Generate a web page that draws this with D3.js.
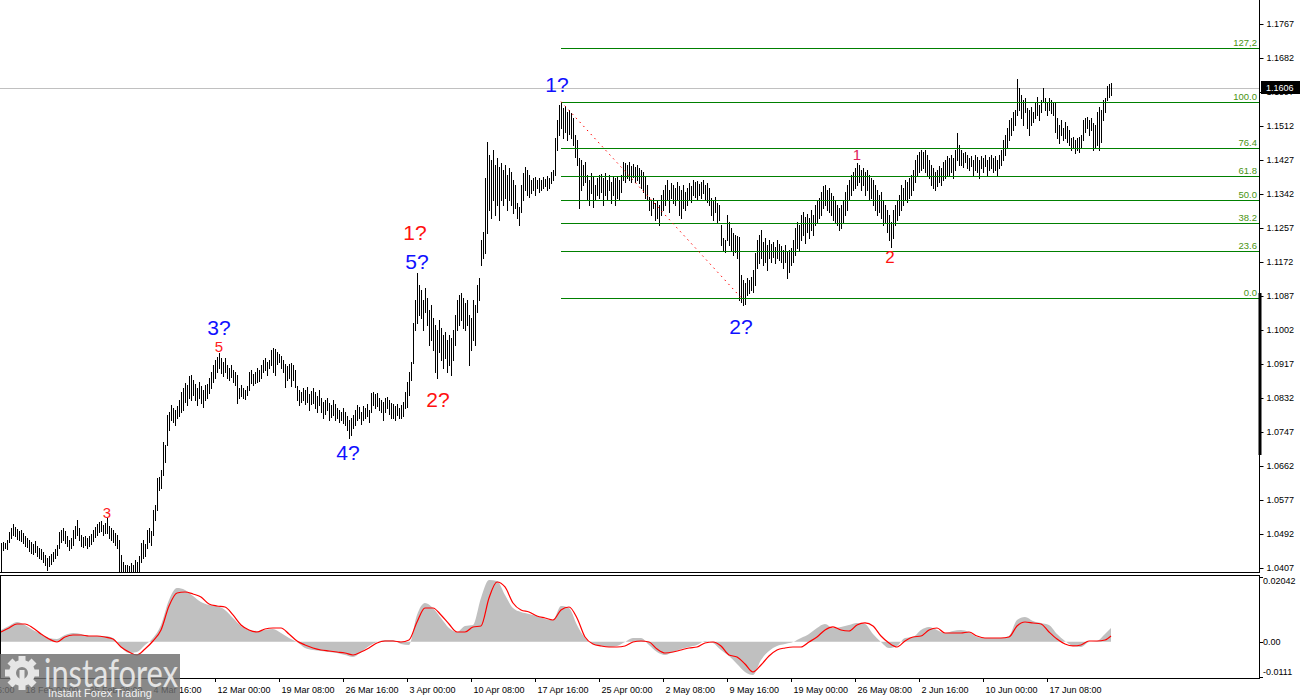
<!DOCTYPE html>
<html><head><meta charset="utf-8">
<script src="https://cdn.jsdelivr.net/npm/d3@7"></script>
<style>body{margin:0;background:#fff}svg{display:block}</style>
</head><body><svg id="c" width="1300" height="700"></svg>
<script>
// ---------- DATA (EURUSD H4) ----------
const highs = [
1.0469,1.0472,1.0469,1.0477,1.0497,1.0507,1.0517,1.0509,1.0504,1.0499,
1.0502,1.0494,1.0487,1.0482,1.0477,1.0472,1.0467,1.0474,1.0462,1.0457,
1.0454,1.0447,1.0439,1.0432,1.0437,1.0442,1.0447,1.0454,1.0464,1.0497,
1.0502,1.0507,1.0499,1.0487,1.0477,1.0482,1.0502,1.0512,1.0527,1.0507,
1.0489,1.0484,1.0487,1.0482,1.0487,1.0492,1.0502,1.0509,1.0517,1.0522,
1.0524,1.0514,1.0519,1.0532,1.0512,1.0507,1.0502,1.0494,1.0489,1.0477,
1.0439,1.0422,1.0414,1.0414,1.0412,1.0419,1.0414,1.0427,1.0422,1.0437,
1.0469,1.0477,1.0467,1.0502,1.0507,1.0499,1.0552,1.0564,1.0632,1.0634,
1.0652,1.0722,1.0714,1.0789,1.0797,1.0814,1.0807,1.0802,1.0812,1.0827,
1.0847,1.0857,1.0869,1.0864,1.0887,1.0889,1.0877,1.0867,1.0857,1.0872,
1.0862,1.0852,1.0864,1.0867,1.0882,1.0897,1.0914,1.0927,1.0934,1.0944,
1.0932,1.0922,1.0932,1.0914,1.0907,1.0914,1.0902,1.0897,1.0889,1.0857,
1.0864,1.0857,1.0852,1.0862,1.0897,1.0902,1.0892,1.0897,1.0907,1.0902,
1.0914,1.0927,1.0932,1.0922,1.0927,1.0952,1.0957,1.0954,1.0947,1.0942,
1.0937,1.0927,1.0917,1.0912,1.0917,1.0919,1.0914,1.0902,1.0862,1.0852,
1.0847,1.0857,1.0852,1.0859,1.0842,1.0849,1.0857,1.0847,1.0837,1.0852,
1.0832,1.0822,1.0827,1.0832,1.0819,1.0814,1.0827,1.0817,1.0807,1.0802,
1.0797,1.0807,1.0797,1.0787,1.0777,1.0782,1.0789,1.0802,1.0814,1.0809,
1.0797,1.0812,1.0807,1.0817,1.0802,1.0844,1.0847,1.0842,1.0844,1.0832,
1.0827,1.0822,1.0832,1.0834,1.0827,1.0819,1.0817,1.0812,1.0817,1.0807,
1.0814,1.0822,1.0847,1.0872,1.0897,1.0922,1.1019,1.1077,1.1144,1.1114,
1.1102,1.1077,1.1107,1.1082,1.1052,1.1064,1.1032,1.1014,1.1002,1.1027,
1.1007,1.0989,1.0997,1.0977,1.0989,1.0982,1.1002,1.1039,1.1077,1.1089,
1.1094,1.1082,1.1069,1.1077,1.1039,1.1032,1.1077,1.1064,1.1114,1.1132,
1.1227,1.1247,1.1382,1.1472,1.1439,1.1427,1.1452,1.1414,1.1432,1.1409,
1.1419,1.1402,1.1414,1.1389,1.1407,1.1397,1.1377,1.1364,1.1319,1.1309,
1.1364,1.1394,1.1409,1.1402,1.1389,1.1377,1.1382,1.1384,1.1377,1.1382,
1.1377,1.1384,1.1379,1.1387,1.1382,1.1397,1.1402,1.1482,1.1527,1.1564,
1.1572,1.1557,1.1562,1.1547,1.1552,1.1544,1.1532,1.1489,1.1477,1.1432,
1.1427,1.1414,1.1422,1.1389,1.1377,1.1394,1.1387,1.1364,1.1382,1.1389,
1.1392,1.1382,1.1394,1.1377,1.1389,1.1372,1.1387,1.1382,1.1384,1.1377,
1.1389,1.1422,1.1419,1.1414,1.1422,1.1412,1.1417,1.1409,1.1414,1.1407,
1.1402,1.1397,1.1384,1.1364,1.1334,1.1327,1.1332,1.1319,1.1327,1.1314,
1.1339,1.1352,1.1364,1.1377,1.1352,1.1369,1.1364,1.1357,1.1372,1.1362,
1.1352,1.1364,1.1347,1.1357,1.1369,1.1362,1.1377,1.1372,1.1374,1.1367,
1.1372,1.1377,1.1364,1.1369,1.1357,1.1332,1.1327,1.1334,1.1319,1.1314,
1.1264,1.1232,1.1227,1.1289,1.1272,1.1257,1.1244,1.1239,1.1237,1.1234,
1.1139,1.1127,1.1119,1.1132,1.1127,1.1134,1.1152,1.1194,1.1227,1.1239,
1.1252,1.1222,1.1232,1.1214,1.1227,1.1217,1.1222,1.1209,1.1227,1.1217,
1.1212,1.1202,1.1214,1.1197,1.1202,1.1207,1.1227,1.1257,1.1272,1.1264,
1.1289,1.1297,1.1284,1.1292,1.1282,1.1302,1.1289,1.1314,1.1327,1.1332,
1.1347,1.1362,1.1364,1.1352,1.1357,1.1344,1.1337,1.1327,1.1314,1.1307,
1.1314,1.1327,1.1347,1.1364,1.1377,1.1389,1.1397,1.1407,1.1419,1.1414,
1.1402,1.1407,1.1397,1.1402,1.1389,1.1382,1.1377,1.1364,1.1352,1.1339,
1.1347,1.1327,1.1314,1.1302,1.1289,1.1272,1.1302,1.1314,1.1327,1.1339,
1.1364,1.1357,1.1377,1.1372,1.1382,1.1389,1.1402,1.1427,1.1439,1.1447,
1.1452,1.1447,1.1452,1.1439,1.1427,1.1414,1.1407,1.1397,1.1402,1.1412,
1.1407,1.1422,1.1427,1.1437,1.1432,1.1439,1.1432,1.1452,1.1494,1.1464,
1.1452,1.1444,1.1447,1.1439,1.1432,1.1437,1.1427,1.1439,1.1434,1.1427,
1.1437,1.1432,1.1439,1.1427,1.1434,1.1439,1.1432,1.1437,1.1427,1.1439,
1.1452,1.1477,1.1489,1.1507,1.1527,1.1532,1.1547,1.1552,1.1629,1.1607,
1.1589,1.1577,1.1582,1.1557,1.1552,1.1559,1.1547,1.1569,1.1584,1.1564,
1.1577,1.1607,1.1582,1.1572,1.1582,1.1577,1.1569,1.1569,1.1532,1.1514,
1.1527,1.1507,1.1522,1.1512,1.1502,1.1482,1.1484,1.1477,1.1482,1.1484,
1.1489,1.1527,1.1532,1.1534,1.1527,1.1532,1.1519,1.1514,1.1547,1.1559,
1.1552,1.1577,1.1582,1.1612,1.1617,1.1619];
const lows = [
1.0397,1.0452,1.0457,1.0454,1.0472,1.0482,1.0489,1.0487,1.0479,1.0477,
1.0474,1.0469,1.0462,1.0459,1.0449,1.0444,1.0442,1.0447,1.0437,1.0432,
1.0429,1.0422,1.0414,1.0402,1.0412,1.0417,1.0424,1.0432,1.0439,1.0457,
1.0472,1.0477,1.0469,1.0462,1.0452,1.0457,1.0464,1.0482,1.0489,1.0477,
1.0462,1.0459,1.0464,1.0457,1.0462,1.0467,1.0474,1.0484,1.0489,1.0497,
1.0499,1.0489,1.0494,1.0494,1.0482,1.0477,1.0472,1.0464,1.0457,1.0387,
1.0364,1.0357,1.0362,1.0377,1.0372,1.0382,1.0377,1.0387,1.0392,1.0387,
1.0422,1.0432,1.0437,1.0457,1.0472,1.0464,1.0489,1.0527,1.0552,1.0602,
1.0607,1.0639,1.0672,1.0714,1.0752,1.0777,1.0772,1.0764,1.0782,1.0787,
1.0797,1.0802,1.0822,1.0814,1.0832,1.0827,1.0839,1.0827,1.0814,1.0832,
1.0819,1.0809,1.0827,1.0832,1.0844,1.0857,1.0872,1.0882,1.0897,1.0907,
1.0894,1.0887,1.0897,1.0882,1.0877,1.0884,1.0872,1.0864,1.0819,1.0832,
1.0837,1.0832,1.0829,1.0839,1.0852,1.0869,1.0864,1.0869,1.0872,1.0874,
1.0882,1.0897,1.0902,1.0889,1.0907,1.0914,1.0897,1.0889,1.0917,1.0922,
1.0907,1.0897,1.0859,1.0877,1.0882,1.0862,1.0877,1.0859,1.0827,1.0814,
1.0822,1.0827,1.0817,1.0822,1.0802,1.0817,1.0819,1.0807,1.0797,1.0814,
1.0797,1.0782,1.0792,1.0802,1.0777,1.0784,1.0789,1.0777,1.0782,1.0772,
1.0777,1.0769,1.0764,1.0752,1.0732,1.0739,1.0757,1.0764,1.0777,1.0782,
1.0767,1.0777,1.0782,1.0787,1.0772,1.0797,1.0814,1.0807,1.0812,1.0802,
1.0797,1.0777,1.0797,1.0807,1.0792,1.0782,1.0782,1.0777,1.0789,1.0782,
1.0782,1.0787,1.0807,1.0809,1.0839,1.0877,1.0919,1.1002,1.1019,1.1039,
1.1032,1.1002,1.1047,1.1014,1.0964,1.0977,1.0952,1.0897,1.0882,1.0947,
1.0927,1.0907,1.0932,1.0897,1.0914,1.0889,1.0927,1.0964,1.1002,1.1014,
1.1027,1.1007,1.1002,1.1014,1.0914,1.0952,1.0977,1.0964,1.1047,1.1077,
1.1164,1.1182,1.1194,1.1244,1.1302,1.1282,1.1327,1.1289,1.1314,1.1277,
1.1327,1.1314,1.1332,1.1302,1.1327,1.1314,1.1294,1.1307,1.1282,1.1264,
1.1297,1.1327,1.1352,1.1339,1.1334,1.1344,1.1352,1.1339,1.1357,1.1347,
1.1352,1.1357,1.1362,1.1352,1.1357,1.1369,1.1377,1.1389,1.1452,1.1489,
1.1507,1.1482,1.1497,1.1477,1.1492,1.1482,1.1464,1.1434,1.1414,1.1307,
1.1352,1.1364,1.1372,1.1327,1.1314,1.1344,1.1309,1.1327,1.1339,1.1332,
1.1347,1.1314,1.1339,1.1327,1.1352,1.1319,1.1339,1.1314,1.1332,1.1327,
1.1347,1.1377,1.1372,1.1382,1.1377,1.1372,1.1384,1.1372,1.1377,1.1369,
1.1357,1.1347,1.1332,1.1327,1.1302,1.1289,1.1307,1.1277,1.1282,1.1264,
1.1289,1.1302,1.1314,1.1327,1.1297,1.1332,1.1319,1.1314,1.1327,1.1289,
1.1282,1.1307,1.1302,1.1314,1.1327,1.1322,1.1339,1.1334,1.1327,1.1339,
1.1332,1.1344,1.1327,1.1322,1.1314,1.1289,1.1277,1.1297,1.1269,1.1277,
1.1214,1.1202,1.1197,1.1227,1.1214,1.1202,1.1189,1.1197,1.1182,1.1077,
1.1072,1.1064,1.1067,1.1089,1.1094,1.1102,1.1097,1.1114,1.1157,1.1169,
1.1182,1.1164,1.1172,1.1152,1.1182,1.1172,1.1184,1.1169,1.1182,1.1177,
1.1172,1.1157,1.1172,1.1132,1.1147,1.1164,1.1172,1.1189,1.1207,1.1202,
1.1227,1.1239,1.1219,1.1247,1.1232,1.1252,1.1239,1.1264,1.1272,1.1282,
1.1289,1.1307,1.1314,1.1302,1.1297,1.1289,1.1277,1.1272,1.1264,1.1252,
1.1257,1.1272,1.1289,1.1302,1.1327,1.1339,1.1352,1.1357,1.1364,1.1372,
1.1352,1.1364,1.1339,1.1352,1.1327,1.1332,1.1314,1.1302,1.1289,1.1297,
1.1282,1.1264,1.1272,1.1247,1.1227,1.1209,1.1232,1.1264,1.1277,1.1289,
1.1302,1.1314,1.1327,1.1322,1.1332,1.1339,1.1352,1.1372,1.1389,1.1397,
1.1402,1.1407,1.1397,1.1389,1.1382,1.1364,1.1357,1.1352,1.1362,1.1372,
1.1364,1.1377,1.1382,1.1387,1.1389,1.1397,1.1382,1.1402,1.1427,1.1414,
1.1414,1.1409,1.1422,1.1407,1.1402,1.1412,1.1389,1.1402,1.1397,1.1382,
1.1407,1.1397,1.1412,1.1389,1.1402,1.1407,1.1397,1.1402,1.1387,1.1407,
1.1414,1.1427,1.1439,1.1457,1.1477,1.1489,1.1502,1.1514,1.1539,1.1552,
1.1532,1.1514,1.1547,1.1507,1.1489,1.1514,1.1522,1.1532,1.1539,1.1527,
1.1547,1.1572,1.1552,1.1539,1.1552,1.1544,1.1539,1.1497,1.1482,1.1469,
1.1489,1.1477,1.1482,1.1472,1.1464,1.1452,1.1457,1.1444,1.1452,1.1447,
1.1457,1.1477,1.1497,1.1507,1.1489,1.1502,1.1452,1.1457,1.1464,1.1452,
1.1472,1.1527,1.1547,1.1577,1.1584,1.1589];

const lastPrice = 1.1606;

// time axis: bar index of each labelled bar and its label
const xTickIdx = [-21, 11, 43, 75, 107, 139, 171, 203, 235, 267, 299, 331, 363, 395, 427, 459, 491, 523];
const xTickLabels = ["10 Feb 16:00","18 Feb 00:00","25 Feb 08:00","4 Mar 16:00","12 Mar 00:00","19 Mar 08:00",
  "26 Mar 16:00","3 Apr 00:00","10 Apr 08:00","17 Apr 16:00","25 Apr 00:00","2 May 08:00","9 May 16:00",
  "19 May 00:00","26 May 08:00","2 Jun 16:00","10 Jun 00:00","17 Jun 08:00"];

const priceTicks = [1.1767,1.1682,1.1597,1.1512,1.1427,1.1342,1.1257,1.1172,1.1087,1.1002,1.0917,1.0832,1.0747,1.0662,1.0577,1.0492,1.0407];

// Fibonacci retracement
const fibLevels = [0, 23.6, 38.2, 50, 61.8, 76.4, 100, 127.2];
const fibLabels = ["0.0","23.6","38.2","50.0","61.8","76.4","100.0","127,2"];
const fibLow = 1.1083, fibHigh = 1.1573, fibStartIdx = 280, fibEndIdx = 370;

// wave labels
const waveText  = ["1?","2?","3?","4?","5?","1?","2?","5","3","1","2"];
const waveIdx   = [278, 370, 109, 173.5, 208, 207, 218.5, 109, 53, 428, 444.5];
const wavePrice = [1.1597,1.0992,1.0989,1.0677,1.1154,1.1227,1.0809,1.0947,1.0532,1.1427,1.1169];
const waveColor = ["#1010ff","#1010ff","#1010ff","#1010ff","#1010ff","#ff1010","#ff1010","#ff2020","#ff2020","#e0205a","#ff1010"];
const waveSize  = [21,21,21,21,21,21,21,15,15,15,17];

// MACD (sampled every 4 bars, last sample = last bar)
const macdHist = [
0.00372,0.00498,0.00624,0.00530,0.00372,0.00246,0.00120,0.00088,0.00214,0.00277,
0.00246,0.00183,0.00183,0.00183,0.00120,-0.00164,-0.00353,-0.00322,-0.00101,0.00120,
0.00530,0.01318,0.01696,0.01633,0.01444,0.01255,0.01160,0.01128,0.01002,0.00750,
0.00498,0.00372,0.00340,0.00372,0.00403,0.00277,0.00120,-0.00006,-0.00195,-0.00258,
-0.00290,-0.00322,-0.00353,-0.00416,-0.00479,-0.00322,-0.00132,-0.00006,0.00057,0.00057,
-0.00069,-0.00101,0.00845,0.01223,0.01065,0.00750,0.00435,0.00309,0.00498,0.00530,
0.01381,0.01948,0.01916,0.01475,0.01065,0.00939,0.00876,0.00813,0.00719,0.00687,
0.01128,0.01065,0.00530,0.00120,-0.00069,-0.00132,-0.00164,-0.00132,-0.00006,0.00120,
0.00120,-0.00101,-0.00322,-0.00416,-0.00322,-0.00227,-0.00164,-0.00101,0.00025,-0.00038,
-0.00258,-0.00448,-0.00700,-0.00952,-0.01046,-0.00574,-0.00290,-0.00132,-0.00069,-0.00006,
0.00120,0.00246,0.00435,0.00561,0.00435,0.00467,0.00530,0.00593,0.00561,0.00246,
-0.00006,-0.00195,-0.00132,0.00120,0.00151,0.00372,0.00467,0.00372,0.00277,0.00340,
0.00372,0.00309,0.00151,0.00120,0.00120,0.00120,0.00183,0.00687,0.00782,0.00656,
0.00593,0.00530,0.00246,0.00025,-0.00132,-0.00164,-0.00006,0.00025,0.00246,0.00435];
const macdSignal = [
0.00309,0.00435,0.00561,0.00561,0.00435,0.00246,0.00088,-0.00006,0.00151,0.00214,
0.00214,0.00183,0.00183,0.00151,0.00088,-0.00164,-0.00322,-0.00416,-0.00227,0.00025,
0.00372,0.01128,0.01538,0.01570,0.01507,0.01412,0.01191,0.01128,0.01097,0.00845,
0.00530,0.00372,0.00309,0.00403,0.00435,0.00435,0.00246,0.00025,-0.00101,-0.00195,
-0.00258,-0.00290,-0.00322,-0.00353,-0.00416,-0.00322,-0.00195,-0.00038,0.00025,0.00025,
-0.00006,0.00057,0.00624,0.01065,0.01065,0.00845,0.00561,0.00309,0.00309,0.00467,
0.00498,0.01381,0.01885,0.01727,0.01223,0.01002,0.00939,0.00813,0.00750,0.00687,
0.01002,0.01097,0.00750,0.00151,-0.00069,-0.00132,-0.00164,-0.00164,-0.00132,-0.00006,
0.00025,-0.00006,-0.00227,-0.00353,-0.00322,-0.00258,-0.00195,-0.00164,-0.00038,-0.00006,
-0.00132,-0.00416,-0.00479,-0.00700,-0.00952,-0.00731,-0.00448,-0.00258,-0.00195,-0.00164,
-0.00164,-0.00006,0.00151,0.00372,0.00467,0.00372,0.00340,0.00530,0.00593,0.00498,
0.00183,-0.00038,-0.00164,0.00025,0.00151,0.00183,0.00372,0.00435,0.00277,0.00277,
0.00277,0.00309,0.00183,0.00120,0.00120,0.00120,0.00151,0.00498,0.00624,0.00593,
0.00561,0.00309,0.00088,-0.00069,-0.00132,-0.00101,0.00025,0.00025,0.00057,0.00183];
const macdTicks = [0.02042, 0, -0.0111];
const macdTickLabels = ["0.02042","0.00","-0.0111"];

// ---------- LAYOUT ----------
const svg = d3.select("#c");
const axisX = 1259, mainBottom = 572, subTop = 575, subBottom = 678;
const FONT = "'Liberation Sans', Arial, sans-serif";
const nBars = highs.length;
const macdIdx = d3.range(0, macdHist.length - 1).map(k => k * 4).concat([nBars - 1]);

const x = d3.scaleLinear().domain([0, nBars - 1]).range([1, 1111]);
const y = d3.scaleLinear().domain([1.0407, 1.1767]).range([568, 24]);
const ym = d3.scaleLinear().domain([-0.0111, 0.02042]).range([677, 577]);

const defs = svg.append("defs");
defs.append("clipPath").attr("id", "clipMain").append("rect")
  .attr("x", 0).attr("y", 0).attr("width", axisX).attr("height", mainBottom);
defs.append("clipPath").attr("id", "clipSub").append("rect")
  .attr("x", 0).attr("y", subTop + 1).attr("width", axisX).attr("height", subBottom - subTop - 1);

svg.append("rect").attr("width", 1300).attr("height", 700).attr("fill", "#fff");

// ----- main pane -----
const main = svg.append("g").attr("clip-path", "url(#clipMain)");
const py = v => Math.round(y(v)) + 0.5;

main.append("line").attr("x1", 0).attr("x2", axisX)
  .attr("y1", py(lastPrice)).attr("y2", py(lastPrice))
  .attr("stroke", "#c0c0c0").attr("stroke-width", 1);

main.append("g").attr("shape-rendering", "crispEdges").selectAll("line")
  .data(highs).join("line")
  .attr("x1", (d, i) => x(i) + 0.5).attr("x2", (d, i) => x(i) + 0.5)
  .attr("y1", d => Math.round(y(d))).attr("y2", (d, i) => Math.round(y(lows[i])) + 1)
  .attr("stroke", "#000").attr("stroke-width", 1);

const fibPrice = l => fibLow + (fibHigh - fibLow) * l / 100;
main.append("g").selectAll("line").data(fibLevels).join("line")
  .attr("x1", x(fibStartIdx)).attr("x2", axisX)
  .attr("y1", d => py(fibPrice(d))).attr("y2", d => py(fibPrice(d)))
  .attr("stroke", "#008000").attr("stroke-width", 1).attr("shape-rendering", "crispEdges");

main.append("g").selectAll("text").data(fibLevels).join("text")
  .attr("x", axisX - 2).attr("y", d => py(fibPrice(d)) - 2.5)
  .attr("text-anchor", "end").attr("font-family", FONT).attr("font-size", 9.5)
  .attr("fill", "#4a9412").text((d, i) => fibLabels[i]);

main.append("line")
  .attr("x1", x(fibStartIdx)).attr("y1", y(fibHigh))
  .attr("x2", x(fibEndIdx)).attr("y2", y(fibLow))
  .attr("stroke", "#ff0000").attr("stroke-width", 1).attr("stroke-dasharray", "1.5,4");

main.append("g").selectAll("text").data(waveText).join("text")
  .attr("x", (d, i) => x(waveIdx[i])).attr("y", (d, i) => y(wavePrice[i]))
  .attr("text-anchor", "middle").attr("font-family", FONT)
  .attr("font-size", (d, i) => waveSize[i]).attr("fill", (d, i) => waveColor[i])
  .text(d => d);

// ----- main frame and price axis -----
svg.append("line").attr("x1", axisX + 0.5).attr("x2", axisX + 0.5).attr("y1", 0).attr("y2", mainBottom)
  .attr("stroke", "#000");
svg.append("line").attr("x1", 0).attr("x2", axisX + 1).attr("y1", mainBottom + 0.5).attr("y2", mainBottom + 0.5)
  .attr("stroke", "#000");
svg.append("rect").attr("x", axisX - 0.5).attr("y", 293).attr("width", 3).attr("height", 162).attr("fill", "#000");

const gy = svg.append("g").attr("transform", `translate(${axisX + 0.5},0)`)
  .call(d3.axisRight(y).tickValues(priceTicks).tickSize(4).tickPadding(3).tickFormat(d3.format(".4f")));
gy.select(".domain").remove();
gy.selectAll("text").attr("font-family", FONT).attr("font-size", 9).attr("fill", "#000");
gy.selectAll("line").attr("stroke", "#000");

// current price box
const lp = svg.append("g").attr("transform", `translate(${axisX + 2},${Math.round(y(lastPrice))})`);
lp.append("rect").attr("x", 0).attr("y", -7).attr("width", 41).attr("height", 13).attr("fill", "#000");
lp.append("text").attr("x", 5).attr("y", 0).attr("dy", "0.35em").attr("font-family", FONT)
  .attr("font-size", 9).attr("fill", "#fff").text(d3.format(".4f")(lastPrice));

// ----- MACD pane -----
svg.append("rect").attr("x", 0.5).attr("y", subTop + 0.5).attr("width", axisX).attr("height", subBottom - subTop)
  .attr("fill", "none").attr("stroke", "#000").attr("stroke-width", 1);
const sub = svg.append("g").attr("clip-path", "url(#clipSub)");
sub.append("path").datum(macdHist)
  .attr("d", d3.area().x((d, i) => x(macdIdx[i])).y0(ym(0)).y1(d => ym(d)).curve(d3.curveMonotoneX))
  .attr("fill", "#c0c0c0");
sub.append("path").datum(macdSignal)
  .attr("d", d3.line().x((d, i) => x(macdIdx[i])).y(d => ym(d)).curve(d3.curveMonotoneX))
  .attr("fill", "none").attr("stroke", "#ff0000").attr("stroke-width", 1.2);

const labelShift = [4, 0, -5];
const gm = svg.append("g");
gm.selectAll("line").data(macdTicks).join("line")
  .attr("x1", axisX).attr("x2", axisX + 4).attr("y1", d => Math.round(ym(d)) + 0.5).attr("y2", d => Math.round(ym(d)) + 0.5)
  .attr("stroke", "#000");
gm.selectAll("text").data(macdTicks).join("text")
  .attr("x", axisX + 4).attr("y", (d, i) => ym(d) + labelShift[i]).attr("dy", "0.35em")
  .attr("font-family", FONT).attr("font-size", 9).attr("fill", "#000")
  .text((d, i) => macdTickLabels[i]);

// ----- time axis -----
const gx = svg.append("g").attr("transform", `translate(0,${subBottom})`)
  .call(d3.axisBottom(x).tickValues(xTickIdx).tickSize(4).tickPadding(5).tickFormat((d, i) => xTickLabels[i]));
gx.select(".domain").remove();
gx.selectAll("text").attr("text-anchor", "start").attr("dx", 2)
  .attr("font-family", FONT).attr("font-size", 9).attr("fill", "#000");
gx.selectAll("line").attr("stroke", "#000");

// ----- watermark logo -----
const logo = svg.append("g");
logo.append("rect").attr("x", 0).attr("y", 654).attr("width", 180).attr("height", 46)
  .attr("fill", "#6e6e6e").attr("opacity", 0.82);
const gear = logo.append("g").attr("transform", "translate(22,673)").attr("fill", "#e6e6e6");
d3.range(8).forEach(k => {
  gear.append("rect").attr("x", -3.5).attr("y", -17).attr("width", 7).attr("height", 8)
    .attr("transform", `rotate(${k * 45})`);
});
gear.append("path").attr("d", d3.arc().innerRadius(6).outerRadius(13).startAngle(0).endAngle(2 * Math.PI)());
gear.append("rect").attr("x", -2.5).attr("y", -3).attr("width", 5).attr("height", 17);
logo.append("text").attr("x", 44).attr("y", 687).attr("font-family", "Lato, 'Open Sans', sans-serif")
  .attr("font-size", 38).attr("fill", "#e4e4e4").attr("textLength", 134).attr("lengthAdjust", "spacingAndGlyphs")
  .text("instaforex");
logo.append("text").attr("x", 48).attr("y", 697).attr("font-family", FONT)
  .attr("font-size", 11).attr("fill", "#f2f2f2").text("Instant Forex Trading");
</script>
</body></html>
